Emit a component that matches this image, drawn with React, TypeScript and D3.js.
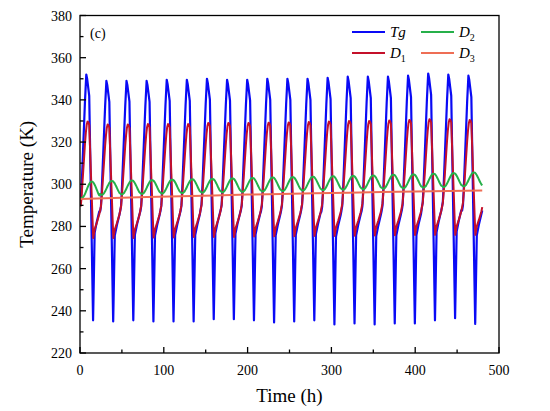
import React from "react";
import * as d3 from "d3";

// ---------- data ----------
const xTicks = [0, 100, 200, 300, 400, 500];
const yTicks = [220, 240, 260, 280, 300, 320, 340, 360, 380];
const initialTemp = 293;
const dayCount = 20;

// Tg daily profile: hour of day and level between trough (0) and peak (1)
const tgHours = [0, 1, 2, 3, 4, 5, 6, 7, 7.5, 8.5, 11, 15.6, 17.5, 20, 23];
const tgLevel = [0.457, 0.478, 0.548, 0.635, 0.722, 0.809, 0.896, 0.965, 1, 0.983, 0.913, 0, 0.357, 0.4, 0.443];
const tgPeaks = [352, 349, 349, 349, 349.5, 349.5, 350, 349.5, 349.5, 350, 350, 350, 350.5, 351, 351, 351, 351.5, 352.5, 352, 351.5];
const tgTroughs = [235.5, 235, 235.5, 235, 235, 235, 236, 236, 235.5, 234.5, 235, 235.5, 233.5, 234, 233.5, 234, 234, 235.5, 236.5, 233.8];

// D1 daily profile
const d1Hours = [0, 1, 2, 3, 4, 5, 6, 7, 8, 9, 10, 11, 12, 13, 14, 15, 15.8, 17.5, 20, 23];
const d1Level = [0.241, 0.278, 0.37, 0.481, 0.593, 0.704, 0.815, 0.907, 0.972, 1, 0.994, 0.972, 0.77, 0.565, 0.36, 0.15, 0, 0.074, 0.13, 0.204];
const d1Peaks = [329.7, 328.3, 328.3, 328.5, 328.5, 328.5, 329, 329, 329, 329.2, 329.3, 329.5, 329.7, 330, 330, 330.2, 330.5, 330.8, 330.8, 330.5];
const d1Troughs = [274.5, 274.5, 274.5, 274.7, 274.8, 275, 275, 275, 275.2, 275.3, 275.4, 275.5, 275.5, 275.6, 275.7, 275.8, 275.9, 276, 276, 276];

// D2 daily profile (smooth, trough early morning, peak mid-afternoon)
const d2Hours = [0, 1, 2, 3, 4, 5, 6, 7, 8, 9, 10, 11, 12, 13, 14, 15, 16, 17, 18, 19, 20, 21, 22, 23];
const d2Level = [0.067, 0.017, 0, 0.017, 0.067, 0.146, 0.25, 0.371, 0.5, 0.629, 0.75, 0.854, 0.933, 0.983, 1, 0.983, 0.933, 0.854, 0.75, 0.629, 0.5, 0.371, 0.25, 0.146];
const d2Peaks = [301.3, 301.6, 301.8, 302.0, 302.2, 302.4, 302.6, 302.8, 303.0, 303.2, 303.4, 303.6, 303.8, 304.0, 304.2, 304.5, 304.7, 305.0, 305.3, 305.6];
const d2Troughs = [293.5, 295.0, 295.2, 295.4, 295.6, 295.8, 296.0, 296.2, 296.4, 296.6, 296.8, 297.0, 297.2, 297.4, 297.6, 297.9, 298.1, 298.4, 298.7, 299.0];

// D3 slow trend
const d3Times = [0, 40, 80, 120, 160, 200, 240, 280, 320, 360, 400, 440, 480];
const d3Values = [293.0, 293.5, 293.9, 294.3, 294.7, 295.1, 295.4, 295.7, 296.0, 296.3, 296.6, 296.8, 297.0];

const colors = { tg: "#0A0AF5", d1: "#C4102A", d2: "#26B04A", d3: "#EE6E55" };

type Pt = [number, number];

function buildDaily(hours: number[], level: number[], peaks: number[], troughs: number[]): Pt[] {
  const pts: Pt[] = [];
  for (let d = 0; d < dayCount; d++) {
    for (let i = 0; i < hours.length; i++) {
      pts.push([24 * d + hours[i], troughs[d] + level[i] * (peaks[d] - troughs[d])]);
    }
  }
  pts[0] = [0, initialTemp];
  const last = dayCount - 1;
  pts.push([24 * dayCount, troughs[last] + level[0] * (peaks[last] - troughs[last])]);
  return pts;
}

const W = 550;
const H = 411;
const M = { left: 80, right: 499, top: 15.5, bottom: 353 };
const FONT = '"Liberation Serif", "Times New Roman", "DejaVu Serif", serif';
const txt: React.CSSProperties = { fontFamily: FONT };

export default function App() {
  const x = d3.scaleLinear().domain([0, 500]).range([M.left, M.right]);
  const y = d3.scaleLinear().domain([220, 380]).range([M.bottom, M.top]);
  const line = d3
    .line<Pt>()
    .x((p) => x(p[0]))
    .y((p) => y(p[1]));

  const tg = buildDaily(tgHours, tgLevel, tgPeaks, tgTroughs);
  const d1 = buildDaily(d1Hours, d1Level, d1Peaks, d1Troughs);
  const d2 = buildDaily(d2Hours, d2Level, d2Peaks, d2Troughs);
  const d3s: Pt[] = d3Times.map((t, i) => [t, d3Values[i]]);

  const xMinor = d3.range(50, 500, 100);
  const yMinor = d3.range(230, 380, 20);

  const legendRows = [
    { y: 32, items: [
      { x0: 352, color: colors.tg, label: "Tg", sub: "" },
      { x0: 421, color: colors.d2, label: "D", sub: "2" },
    ] },
    { y: 53, items: [
      { x0: 352, color: colors.d1, label: "D", sub: "1" },
      { x0: 421, color: colors.d3, label: "D", sub: "3" },
    ] },
  ];

  return (
    <svg
      width={W}
      height={H}
      viewBox={`0 0 ${W} ${H}`}
      style={{ position: "absolute", left: 0, top: 0, background: "#fff", fontFamily: FONT }}
    >
      <defs>
        <clipPath id="plotClip">
          <rect x={M.left} y={M.top} width={M.right - M.left} height={M.bottom - M.top} />
        </clipPath>
      </defs>

      <g clipPath="url(#plotClip)" fill="none" strokeLinejoin="round">
        <path d={line(tg) || ""} stroke={colors.tg} strokeWidth={2.2} />
        <path d={line(d1) || ""} stroke={colors.d1} strokeWidth={2} />
        <path d={line.curve(d3.curveMonotoneX)(d2) || ""} stroke={colors.d2} strokeWidth={2} />
        <path d={line.curve(d3.curveLinear)(d3s) || ""} stroke={colors.d3} strokeWidth={2} />
      </g>

      {/* frame */}
      <rect
        x={M.left}
        y={M.top}
        width={M.right - M.left}
        height={M.bottom - M.top}
        fill="none"
        stroke="#000"
        strokeWidth={1.3}
      />

      {/* x ticks */}
      {xTicks.map((t) => (
        <g key={"xt" + t}>
          <line x1={x(t)} x2={x(t)} y1={M.bottom} y2={M.bottom - 6} stroke="#000" strokeWidth={1.3} />
          <text x={x(t)} y={375} textAnchor="middle" fontSize={14} style={txt}>
            {t}
          </text>
        </g>
      ))}
      {xMinor.map((t) => (
        <line key={"xm" + t} x1={x(t)} x2={x(t)} y1={M.bottom} y2={M.bottom - 3.5} stroke="#000" strokeWidth={1.3} />
      ))}

      {/* y ticks */}
      {yTicks.map((v) => (
        <g key={"yt" + v}>
          <line x1={M.left} x2={M.left + 6} y1={y(v)} y2={y(v)} stroke="#000" strokeWidth={1.3} />
          <text x={72} y={y(v) + 5} textAnchor="end" fontSize={14} style={txt}>
            {v}
          </text>
        </g>
      ))}
      {yMinor.map((v) => (
        <line key={"ym" + v} x1={M.left} x2={M.left + 3.5} y1={y(v)} y2={y(v)} stroke="#000" strokeWidth={1.3} />
      ))}

      {/* axis titles */}
      <text x={(M.left + M.right) / 2} y={402} textAnchor="middle" fontSize={19} style={txt}>
        Time (h)
      </text>
      <text
        transform={`translate(33, ${(M.top + M.bottom) / 2}) rotate(-90)`}
        textAnchor="middle"
        fontSize={19}
        style={txt}
      >
        Temperature (K)
      </text>

      {/* panel label */}
      <text x={90} y={38} fontSize={14} style={txt}>
        (c)
      </text>

      {/* legend */}
      {legendRows.map((row, ri) =>
        row.items.map((it, ii) => (
          <g key={`lg${ri}-${ii}`}>
            <line x1={it.x0} x2={it.x0 + 33} y1={row.y} y2={row.y} stroke={it.color} strokeWidth={2} />
            <text x={it.x0 + 38} y={row.y + 5} fontSize={15} fontStyle="italic" style={txt}>
              {it.label}
              {it.sub && (
                <tspan fontStyle="normal" fontSize={10} dy={4}>
                  {it.sub}
                </tspan>
              )}
            </text>
          </g>
        ))
      )}
    </svg>
  );
}
